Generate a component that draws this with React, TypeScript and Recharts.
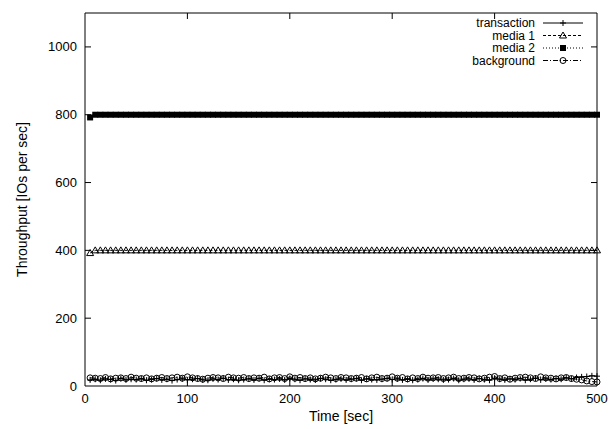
import React from 'react';
import { LineChart, Line, XAxis, YAxis, ReferenceLine } from 'recharts';

const times = [
  5, 10, 15, 20, 25, 30, 35, 40, 45, 50,
  55, 60, 65, 70, 75, 80, 85, 90, 95, 100,
  105, 110, 115, 120, 125, 130, 135, 140, 145, 150,
  155, 160, 165, 170, 175, 180, 185, 190, 195, 200,
  205, 210, 215, 220, 225, 230, 235, 240, 245, 250,
  255, 260, 265, 270, 275, 280, 285, 290, 295, 300,
  305, 310, 315, 320, 325, 330, 335, 340, 345, 350,
  355, 360, 365, 370, 375, 380, 385, 390, 395, 400,
  405, 410, 415, 420, 425, 430, 435, 440, 445, 450,
  455, 460, 465, 470, 475, 480, 485, 490, 495, 500,
];

const transaction = [
  18, 20, 17, 21, 19, 16, 22, 18, 20, 19,
  21, 17, 19, 22, 18, 20, 16, 19, 21, 18,
  20, 22, 18, 17, 21, 19, 23, 18, 20, 17,
  19, 21, 18, 22, 17, 20, 19, 21, 18, 22,
  20, 17, 21, 19, 18, 22, 20, 17, 19, 21,
  18, 20, 22, 17, 21, 19, 18, 20, 22, 19,
  21, 18, 20, 17, 19, 22, 18, 21, 20, 18,
  19, 22, 17, 20, 21, 18, 22, 19, 17, 23,
  20, 18, 21, 19, 22, 17, 20, 23, 18, 21,
  19, 22, 20, 24, 21, 25, 27, 28, 30, 29,
];

const media1 = [
  392, 400, 400, 400, 400, 400, 400, 400, 400, 400,
  400, 400, 400, 400, 400, 400, 400, 400, 400, 400,
  400, 400, 400, 400, 400, 400, 400, 400, 400, 400,
  400, 400, 400, 400, 400, 400, 400, 400, 400, 400,
  400, 400, 400, 400, 400, 400, 400, 400, 400, 400,
  400, 400, 400, 400, 400, 400, 400, 400, 400, 400,
  400, 400, 400, 400, 400, 400, 400, 400, 400, 400,
  400, 400, 400, 400, 400, 400, 400, 400, 400, 400,
  400, 400, 400, 400, 400, 400, 400, 400, 400, 400,
  400, 400, 400, 400, 400, 400, 400, 400, 400, 400,
];

const media2 = [
  792, 800, 800, 800, 800, 800, 800, 800, 800, 800,
  800, 800, 800, 800, 800, 800, 800, 800, 800, 800,
  800, 800, 800, 800, 800, 800, 800, 800, 800, 800,
  800, 800, 800, 800, 800, 800, 800, 800, 800, 800,
  800, 800, 800, 800, 800, 800, 800, 800, 800, 800,
  800, 800, 800, 800, 800, 800, 800, 800, 800, 800,
  800, 800, 800, 800, 800, 800, 800, 800, 800, 800,
  800, 800, 800, 800, 800, 800, 800, 800, 800, 800,
  800, 800, 800, 800, 800, 800, 800, 800, 800, 800,
  800, 800, 800, 800, 800, 800, 800, 800, 800, 800,
];

const background = [
  24, 23, 22, 25, 21, 23, 24, 22, 26, 23,
  22, 24, 21, 23, 25, 22, 24, 26, 23, 27,
  24, 22, 20, 23, 25, 24, 22, 26, 24, 23,
  25, 22, 24, 23, 26, 21, 24, 25, 22, 27,
  23, 25, 22, 24, 21, 23, 26, 24, 22, 25,
  24, 22, 23, 25, 21, 24, 26, 22, 23, 27,
  23, 25, 21, 24, 22, 26, 23, 24, 25, 22,
  24, 26, 22, 23, 25, 24, 21, 23, 26, 28,
  22, 24, 20, 23, 25, 26, 24, 22, 27, 24,
  23, 21, 24, 25, 22, 20, 18, 15, 13, 12,
];

const xTicks = [0, 100, 200, 300, 400, 500];
const yTicks = [0, 200, 400, 600, 800, 1000];

const data = times.map((t, i) => ({
  t,
  transaction: transaction[i],
  media1: media1[i],
  media2: media2[i],
  background: background[i],
}));

const FONT = '"Liberation Sans", Arial, Helvetica, sans-serif';
const W = 612;
const H = 429;
const M = { top: 13, right: 15, bottom: 0, left: 0 };
const Y_AXIS_W = 85;
const X_AXIS_H = 43;
const PLOT_TOP = M.top;
const PLOT_RIGHT = W - M.right;
const TICK_MARGIN = 8;
const TICK_LEN = 6;

const PlusDot = (props: any) => {
  const { cx, cy } = props;
  if (cx == null || cy == null) return null;
  return <path d={`M${cx - 3},${cy}h6M${cx},${cy - 3}v6`} stroke="#000" strokeWidth={1} fill="none" />;
};

const TriangleDot = (props: any) => {
  const { cx, cy } = props;
  if (cx == null || cy == null) return null;
  return (
    <polygon
      points={`${cx},${cy - 3.5} ${cx - 3.5},${cy + 2.5} ${cx + 3.5},${cy + 2.5}`}
      stroke="#000"
      strokeWidth={1}
      fill="none"
    />
  );
};

const SquareDot = (props: any) => {
  const { cx, cy } = props;
  if (cx == null || cy == null) return null;
  return <rect x={cx - 3} y={cy - 3} width={6} height={6} fill="#000" />;
};

const CircleDot = (props: any) => {
  const { cx, cy } = props;
  if (cx == null || cy == null) return null;
  return <circle cx={cx} cy={cy} r={3} stroke="#000" strokeWidth={1} fill="none" />;
};

const series = [
  { key: 'transaction', name: 'transaction', dash: undefined, Dot: PlusDot },
  { key: 'media1', name: 'media 1', dash: '3 2', Dot: TriangleDot },
  { key: 'media2', name: 'media 2', dash: '1 2', Dot: SquareDot },
  { key: 'background', name: 'background', dash: '5 2 1 2', Dot: CircleDot },
];

// y tick: label on the left, gnuplot style inward marks on both sides
const YTick = (props: any) => {
  const { x, y, payload } = props;
  const left = x + TICK_MARGIN;
  return (
    <g>
      <text x={x} y={y} dy="0.35em" textAnchor="end" fontSize={13} fontFamily={FONT} fill="#000">
        {payload.value}
      </text>
      {payload.value > 0 && (
        <>
          <line x1={left} x2={left + TICK_LEN} y1={y} y2={y} stroke="#000" />
          <line x1={PLOT_RIGHT} x2={PLOT_RIGHT - TICK_LEN} y1={y} y2={y} stroke="#000" />
        </>
      )}
    </g>
  );
};

const XTick = (props: any) => {
  const { x, y, payload } = props;
  const bottom = y - TICK_MARGIN;
  const edge = payload.value === 0 || payload.value === 500;
  return (
    <g>
      <text x={x} y={y} dy="0.71em" textAnchor="middle" fontSize={13} fontFamily={FONT} fill="#000">
        {payload.value}
      </text>
      {!edge && (
        <>
          <line x1={x} x2={x} y1={bottom} y2={bottom - TICK_LEN} stroke="#000" />
          <line x1={x} x2={x} y1={PLOT_TOP} y2={PLOT_TOP + TICK_LEN} stroke="#000" />
        </>
      )}
    </g>
  );
};

const YLabel = (props: any) => {
  const { viewBox } = props;
  const cx = viewBox.x + 22;
  const cy = viewBox.y + viewBox.height / 2;
  return (
    <text
      x={cx}
      y={cy}
      transform={`rotate(-90, ${cx}, ${cy})`}
      textAnchor="middle"
      dominantBaseline="central"
      fontSize={14}
      fontFamily={FONT}
      fill="#000"
    >
      Throughput [IOs per sec]
    </text>
  );
};

const LegendBox = () => {
  const rowH = 12.5;
  const textX = 110;
  return (
    <svg width={160} height={60} style={{ display: 'block' }}>
      {series.map((s, i) => {
        const y = 8 + i * rowH;
        const D = s.Dot;
        return (
          <g key={s.key}>
            <text x={textX} y={y} dy="0.35em" textAnchor="end" fontSize={12} fontFamily={FONT} fill="#000">
              {s.name}
            </text>
            <line x1={textX + 8} x2={textX + 48} y1={y} y2={y} stroke="#000" strokeDasharray={s.dash} />
            <D cx={textX + 28} cy={y} />
          </g>
        );
      })}
    </svg>
  );
};

export default function App() {
  return (
    <div style={{ position: 'absolute', left: 0, top: 0, width: W, height: H, background: '#fff' }}>
      <LineChart width={W} height={H} data={data} margin={M}>
        <XAxis
          dataKey="t"
          type="number"
          domain={[0, 500]}
          ticks={xTicks}
          interval={0}
          height={X_AXIS_H}
          axisLine={{ stroke: '#000' }}
          tickLine={false}
          tickSize={0}
          tickMargin={TICK_MARGIN}
          tick={<XTick />}
          label={{ value: 'Time [sec]', position: 'insideBottom', offset: 8, fontSize: 14, fontFamily: FONT, fill: '#000' }}
        />
        <YAxis
          type="number"
          domain={[0, 1100]}
          ticks={yTicks}
          interval={0}
          width={Y_AXIS_W}
          axisLine={{ stroke: '#000' }}
          tickLine={false}
          tickSize={0}
          tickMargin={TICK_MARGIN}
          tick={<YTick />}
          label={<YLabel />}
        />
        <ReferenceLine y={1100} stroke="#000" />
        <ReferenceLine x={500} stroke="#000" />
        {series.map((s) => (
          <Line
            key={s.key}
            dataKey={s.key}
            name={s.name}
            stroke="#000"
            strokeWidth={1}
            strokeDasharray={s.dash}
            dot={<s.Dot />}
            activeDot={false}
            isAnimationActive={false}
          />
        ))}
      </LineChart>
      <div style={{ position: 'absolute', top: 15, left: 425 }}>
        <LegendBox />
      </div>
    </div>
  );
}
